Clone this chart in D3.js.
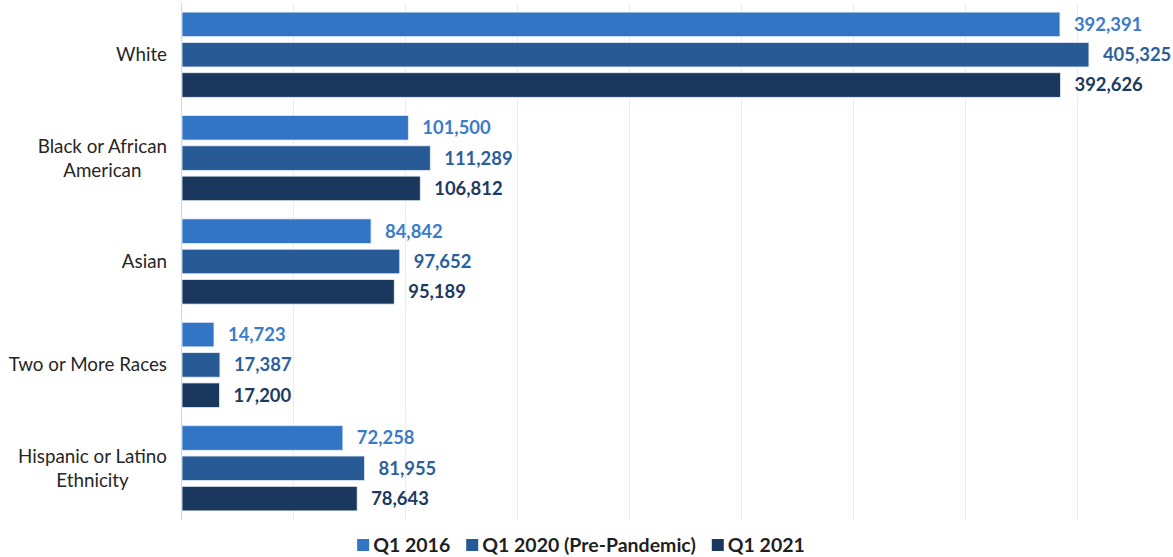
<!DOCTYPE html>
<html>
<head>
<meta charset="utf-8">
<script src="https://cdn.jsdelivr.net/npm/d3@7"></script>
<style>
  html, body { margin: 0; padding: 0; background: #ffffff; }
  svg { display: block; }
</style>
</head>
<body>
<svg id="chart" width="1173" height="557"></svg>
<script>
// Employment counts by race / ethnicity for three quarters
const categories = [
  ["White"],
  ["Black or African", "American"],
  ["Asian"],
  ["Two or More Races"],
  ["Hispanic or Latino", "Ethnicity"]
];
const seriesNames = ["Q1 2016", "Q1 2020 (Pre-Pandemic)", "Q1 2021"];
const q1_2016 = [392391, 101500, 84842, 14723, 72258];
const q1_2020 = [405325, 111289, 97652, 17387, 81955];
const q1_2021 = [392626, 106812, 95189, 17200, 78643];
const gridTicks = [0, 50000, 100000, 150000, 200000, 250000, 300000, 350000, 400000];

const barColors = ["#3275c5", "#285b96", "#1a375d"];
const labelColors = ["#3a7cca", "#2b5f9b", "#1c3a60"];

const seriesValues = [q1_2016, q1_2020, q1_2021];
const catKeys = categories.map(c => c.join(" "));
const FONT = "Lato, 'Open Sans', sans-serif";

const svg = d3.select("#chart");

const x = d3.scaleLinear().domain([0, 450000]).range([181, 1189]);
const y0 = d3.scaleBand().domain(catKeys).range([3, 520]).paddingInner(0).paddingOuter(0);
const y1 = d3.scaleBand().domain(d3.range(seriesNames.length))
  .range([0, y0.bandwidth()]).paddingInner(0.19).paddingOuter(0.3);

// vertical gridlines
svg.append("g").selectAll("line")
  .data(gridTicks.slice(1))
  .join("line")
  .attr("x1", d => x(d) + 0.5).attr("x2", d => x(d) + 0.5)
  .attr("y1", 3).attr("y2", 520)
  .attr("stroke", "#ececec").attr("stroke-width", 1);

// value axis baseline
svg.append("line")
  .attr("x1", x(0) + 0.5).attr("x2", x(0) + 0.5)
  .attr("y1", 3).attr("y2", 520)
  .attr("stroke", "#d4d4d4").attr("stroke-width", 1);

// bars and value labels
const groups = svg.append("g").selectAll("g")
  .data(catKeys)
  .join("g")
  .attr("transform", d => `translate(0,${y0(d)})`);

groups.each(function (key, ci) {
  const g = d3.select(this);
  seriesValues.forEach((vals, si) => {
    const v = vals[ci];
    g.append("rect")
      .attr("x", x(0) + 1)
      .attr("y", y1(si))
      .attr("width", x(v) - x(0) - 1)
      .attr("height", y1.bandwidth())
      .attr("fill", barColors[si])
      .attr("stroke", "#e6edf6")
      .attr("stroke-width", 0.8);
    g.append("text")
      .attr("x", x(v) + 14)
      .attr("y", y1(si) + y1.bandwidth() / 2)
      .attr("dy", "0.35em")
      .attr("font-family", FONT)
      .attr("font-weight", "bold")
      .attr("font-size", 18.4)
      .attr("fill", labelColors[si])
      .text(d3.format(",")(v));
  });
});

// category labels: lines centred within a block whose right edge sits by the axis
const labelRight = 167;
const lineH = 24;
categories.forEach((lines, ci) => {
  const cy = y0(catKeys[ci]) + y0.bandwidth() / 2;
  const t = svg.append("g");
  const texts = lines.map((ln, li) => t.append("text")
    .attr("y", cy + (li - (lines.length - 1) / 2) * lineH)
    .attr("dy", "0.35em")
    .attr("font-family", FONT)
    .attr("font-size", 18.8)
    .attr("fill", "#262626")
    .text(ln));
  const widths = texts.map(tx => tx.node().getComputedTextLength());
  const blockW = d3.max(widths);
  const center = labelRight - blockW / 2;
  texts.forEach(tx => tx.attr("x", center).attr("text-anchor", "middle"));
});

// legend, centred under the plot
const legend = svg.append("g").attr("transform", "translate(0,545)");
const items = seriesNames.map((name, si) => {
  const it = legend.append("g");
  it.append("rect")
    .attr("x", 0).attr("y", -6).attr("width", 12).attr("height", 12)
    .attr("fill", barColors[si]);
  const tx = it.append("text")
    .attr("x", 16).attr("y", 0).attr("dy", "0.35em")
    .attr("font-family", FONT)
    .attr("font-weight", "bold")
    .attr("font-size", 19.5)
    .attr("fill", "#1f1f1f")
    .text(name);
  return { it, w: 16 + tx.node().getComputedTextLength() };
});
const gap = 16;
const totalW = d3.sum(items, d => d.w) + gap * (items.length - 1);
let lx = 581 - totalW / 2;
items.forEach(d => {
  d.it.attr("transform", `translate(${lx},0)`);
  lx += d.w + gap;
});
</script>
</body>
</html>
